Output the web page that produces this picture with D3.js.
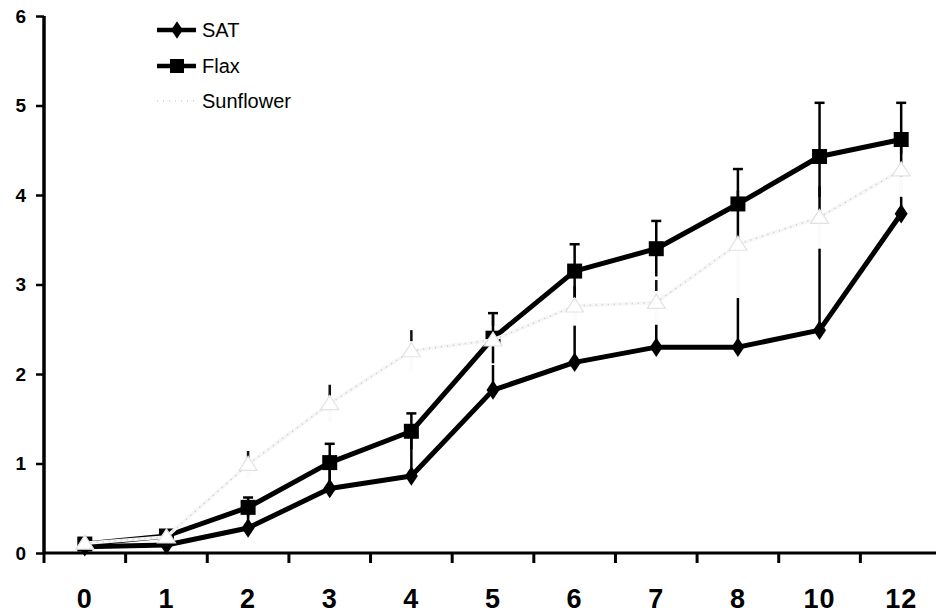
<!DOCTYPE html>
<html>
<head>
<meta charset="utf-8">
<script src="https://cdn.jsdelivr.net/npm/d3@7/dist/d3.min.js"></script>
<style>
  html, body { margin: 0; padding: 0; background: #fff; }
  svg { display: block; font-family: "Liberation Sans", Arial, Helvetica, sans-serif; }
</style>
</head>
<body>
<svg id="chart" width="936" height="614"></svg>
<script>
// ---- data ----
const categories = ["0", "1", "2", "3", "4", "5", "6", "7", "8", "10", "12"];
const satValues = [0.07, 0.09, 0.28, 0.72, 0.86, 1.82, 2.13, 2.30, 2.30, 2.49, 3.79];
const satErrUp = [0.0, 0.0, 0.2, 0.28, 0.44, 0.56, 0.63, 0.5, 0.55, 1.1, 0.5];
const flaxValues = [0.10, 0.19, 0.51, 1.01, 1.36, 2.40, 3.15, 3.40, 3.90, 4.43, 4.62];
const flaxErr = [0.03, 0.03, 0.11, 0.21, 0.2, 0.28, 0.3, 0.31, 0.39, 0.6, 0.41];
const sunValues = [0.11, 0.18, 0.99, 1.67, 2.26, 2.38, 2.76, 2.80, 3.45, 3.75, 4.28];
const sunErr = [0.03, 0.04, 0.15, 0.21, 0.23, 0.28, 0.22, 0.25, 0.6, 0.35, 0.3];
const yTicks = [0, 1, 2, 3, 4, 5, 6];
const seriesNames = ["SAT", "Flax", "Sunflower"];

// ---- layout ----
const svg = d3.select("#chart");
const x = d3.scaleBand().domain(categories).range([44, 942]).padding(0);
const y = d3.scaleLinear().domain([0, 6]).range([553, 16]);
const cx = c => x(c) + x.bandwidth() / 2;

// ---- axes ----
const yAxis = svg.append("g").attr("transform", "translate(44,0)")
  .call(d3.axisLeft(y).tickValues(yTicks).tickSize(8).tickPadding(10).tickFormat(d3.format("d")));
yAxis.select(".domain").attr("stroke", "#000").attr("stroke-width", 3.5).attr("d", `M0,${y(6)}V${y(0)}`);
yAxis.selectAll(".tick line").attr("stroke", "#000").attr("stroke-width", 2.5);
yAxis.selectAll(".tick text")
  .style("font-size", "19px").style("font-weight", "bold").style("fill", "#000")
  .style("font-family", "'Liberation Sans', Arial, sans-serif");

const xAxis = svg.append("g").attr("transform", `translate(0,${y(0)})`)
  .call(d3.axisBottom(x).tickSize(0).tickPadding(0));
xAxis.select(".domain").attr("stroke", "#000").attr("stroke-width", 3).attr("d", `M${x.range()[0]},0H${x.range()[1]}`);
xAxis.selectAll(".tick text")
  .style("font-size", "27px").style("font-weight", "bold").style("fill", "#000")
  .style("letter-spacing", "1px")
  .style("font-family", "'Liberation Sans', Arial, sans-serif")
  .attr("dy", 0).attr("y", 55);
// boundary ticks between categories
const boundaries = categories.map(c => x(c)).concat([x.range()[1]]);
xAxis.selectAll(".btick").data(boundaries).enter().append("line")
  .attr("class", "btick")
  .attr("x1", d => d).attr("x2", d => d).attr("y1", 0).attr("y2", 10)
  .attr("stroke", "#000").attr("stroke-width", 3);

const plot = svg.append("g");
const lineGen = vals => d3.line().x((d, i) => cx(categories[i])).y(d => y(d))(vals);

// ---- SAT (bottom layer) ----
plot.append("g").selectAll("line").data(satValues).enter().append("line")
  .attr("x1", (d, i) => cx(categories[i])).attr("x2", (d, i) => cx(categories[i]))
  .attr("y1", d => y(d)).attr("y2", (d, i) => y(d + satErrUp[i]))
  .attr("stroke", "#000").attr("stroke-width", 2.5);
plot.append("path").attr("d", lineGen(satValues)).attr("fill", "none")
  .attr("stroke", "#000").attr("stroke-width", 5).attr("stroke-linejoin", "round");
plot.append("g").selectAll("path").data(satValues).enter().append("path")
  .attr("d", d3.symbol().type(d3.symbolDiamond).size(110))
  .attr("transform", (d, i) => `translate(${cx(categories[i])},${y(d)}) scale(1.15,1)`)
  .attr("fill", "#000");

// ---- Sunflower error bars (very light, under Flax) ----
const sunEb = plot.append("g");
sunEb.selectAll("line").data(sunValues).enter().append("line")
  .attr("x1", (d, i) => cx(categories[i])).attr("x2", (d, i) => cx(categories[i]))
  .attr("y1", (d, i) => y(d - sunErr[i])).attr("y2", (d, i) => y(d + sunErr[i]))
  .attr("stroke", "#fbfbfb").attr("stroke-width", 4);
sunEb.selectAll(".tip").data(sunValues).enter().append("line")
  .attr("class", "tip")
  .attr("x1", (d, i) => cx(categories[i])).attr("x2", (d, i) => cx(categories[i]))
  .attr("y1", (d, i) => y(d + sunErr[i])).attr("y2", (d, i) => Math.min(y(d + sunErr[i]) + 11, y(d) - 6))
  .attr("stroke", "#111").attr("stroke-width", 2.5);

// ---- Flax ----
const flaxEb = plot.append("g");
flaxEb.selectAll("line.v").data(flaxValues).enter().append("line").attr("class", "v")
  .attr("x1", (d, i) => cx(categories[i])).attr("x2", (d, i) => cx(categories[i]))
  .attr("y1", (d, i) => y(d - flaxErr[i])).attr("y2", (d, i) => y(d + flaxErr[i]))
  .attr("stroke", "#000").attr("stroke-width", 2.5);
flaxEb.selectAll("line.c").data(flaxValues).enter().append("line").attr("class", "c")
  .attr("x1", (d, i) => cx(categories[i]) - 5).attr("x2", (d, i) => cx(categories[i]) + 5)
  .attr("y1", (d, i) => y(d + flaxErr[i])).attr("y2", (d, i) => y(d + flaxErr[i]))
  .attr("stroke", "#000").attr("stroke-width", 2.5);
plot.append("path").attr("d", lineGen(flaxValues)).attr("fill", "none")
  .attr("stroke", "#000").attr("stroke-width", 5).attr("stroke-linejoin", "round");
plot.append("g").selectAll("rect").data(flaxValues).enter().append("rect")
  .attr("x", (d, i) => cx(categories[i]) - 7.5).attr("y", d => y(d) - 7.5)
  .attr("width", 15).attr("height", 15).attr("fill", "#000");

// ---- Sunflower line + markers (top) ----
plot.append("path").attr("d", lineGen(sunValues)).attr("fill", "none")
  .attr("stroke", "#f6f6f6").attr("stroke-width", 3.5);
plot.append("path").attr("d", lineGen(sunValues)).attr("fill", "none")
  .attr("stroke", "#c8c8c8").attr("stroke-width", 1.5).attr("stroke-dasharray", "1,5");
const tri = (px, py) => `M${px},${py - 8}L${px + 9},${py + 6}L${px - 9},${py + 6}Z`;
plot.append("g").selectAll("path").data(sunValues).enter().append("path")
  .attr("d", (d, i) => tri(cx(categories[i]), y(d)))
  .attr("fill", "#fff").attr("stroke", "#e2e2e2").attr("stroke-width", 1.2);

// ---- Legend ----
const legend = svg.append("g");
const rows = [30, 66, 101];
seriesNames.forEach((name, i) => {
  const g = legend.append("g").attr("transform", `translate(0,${rows[i]})`);
  if (i < 2) {
    g.append("line").attr("x1", 157).attr("x2", 196).attr("y1", 0).attr("y2", 0)
      .attr("stroke", "#000").attr("stroke-width", 4.5);
  } else {
    g.append("line").attr("x1", 157).attr("x2", 196).attr("y1", 0).attr("y2", 0)
      .attr("stroke", "#d0d0d0").attr("stroke-width", 1.5).attr("stroke-dasharray", "1,5");
  }
  if (i === 0) {
    g.append("path").attr("d", d3.symbol().type(d3.symbolDiamond).size(90))
      .attr("transform", "translate(177,0) scale(1.15,1)").attr("fill", "#000");
  } else if (i === 1) {
    g.append("rect").attr("x", 170).attr("y", -7).attr("width", 14).attr("height", 14).attr("fill", "#000");
  }
  g.append("text").attr("x", 202).attr("y", 7).text(name)
    .style("font-size", "20px").style("fill", "#000");
});
</script>
</body>
</html>
